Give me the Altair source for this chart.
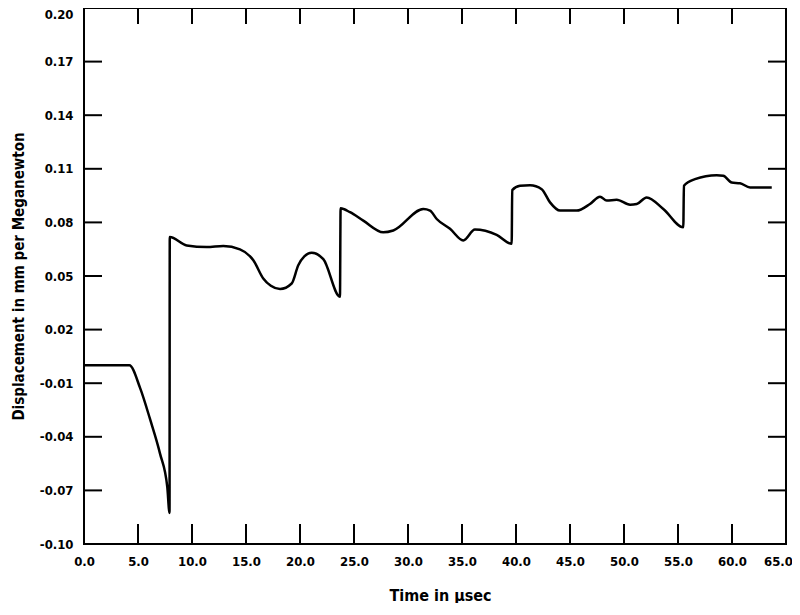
import altair as alt
import pandas as pd

# Time (microseconds) and displacement (mm per Meganewton)
t = [0.0, 4.2, 5.19, 6.11, 7.04, 7.71, 7.92, 7.94, 9.51, 11.36, 12.90, 14.44, 15.68,
     16.60, 17.3, 18.15, 19.23, 19.84, 20.4, 21.08, 22.16, 23.70, 23.76, 24.63,
     25.86, 27.71, 28.64, 31.42, 32.04, 32.66, 33.89, 35.12, 36.20, 38.21, 39.60,
     39.65, 40.37, 41.30, 42.38, 43.15, 44.07, 45.62, 46.85, 47.78, 48.40, 49.32,
     50.56, 51.18, 52.10, 53.64, 55.49, 55.55, 56.57, 58.58, 59.19, 59.97, 60.74,
     61.67, 62.59, 63.68]
v = [0.0, 0.0, -0.0126, -0.030, -0.0494, -0.068, -0.0826, 0.0718, 0.0671, 0.0662,
     0.0668, 0.0649, 0.0588, 0.0486, 0.0445, 0.0427, 0.0458, 0.0560, 0.0610, 0.0630,
     0.0594, 0.0384, 0.0879, 0.0857, 0.0810, 0.0745, 0.0755, 0.0875, 0.0866, 0.0819,
     0.0764, 0.0699, 0.0760, 0.0730, 0.0680, 0.0981, 0.1005, 0.1008, 0.0986, 0.0912,
     0.0866, 0.0866, 0.0903, 0.0944, 0.0922, 0.0927, 0.0899, 0.0903, 0.0940, 0.0875,
     0.0773, 0.1005, 0.1042, 0.1064, 0.1061, 0.1023, 0.1019, 0.0996, 0.0996, 0.0996]

x_ticks = [0, 5, 10, 15, 20, 25, 30, 35, 40, 45, 50, 55, 60, 65]
y_ticks = [-0.10, -0.07, -0.04, -0.01, 0.02, 0.05, 0.08, 0.11, 0.14, 0.17, 0.20]

W, H = 702, 536
TL = 18
FONT = "DejaVu Sans Condensed"

df = pd.DataFrame({"t": t, "v": v, "i": list(range(len(t)))})
xs = alt.Scale(domain=[0, 65], nice=False, zero=False)
ys = alt.Scale(domain=[-0.10, 0.20], nice=False, zero=False)
fix_minus = "replace(datum.label, '\u2212', '-')"

ax_x = alt.Axis(values=x_ticks, format=".1f", title="Time in \u03bcsec",
                labelFlush=False, labelPadding=11,
                labelOffset={"condition": {"test": "datum.value > 64", "value": -8},
                             "value": 0},
                titleX=356, titleY=51, titleBaseline="middle", titleFontSize=16,
                titleAnchor="middle", titleAlign="center")
ax_y = alt.Axis(values=y_ticks, format=".2f", labelExpr=fix_minus,
                title="Displacement in mm per Meganewton",
                labelFlush=False, labelPadding=11,
                labelBaseline={"condition": {"test": "datum.value > 0.19", "value": "top"},
                               "value": "middle"},
                titleX=-66, titleY=H / 2, titleBaseline="middle", titleFontSize=15,
                titleAngle=270, titleAlign="center")

line = alt.Chart(df).mark_line(color="black", strokeWidth=2.5, interpolate="monotone").encode(
    x=alt.X("t:Q", scale=xs, axis=ax_x),
    y=alt.Y("v:Q", scale=ys, axis=ax_y),
    order="i:Q",
)

xt = pd.DataFrame({"t": x_ticks})
yt = pd.DataFrame({"v": y_ticks})
rule = dict(color="black", strokeWidth=2)

top = alt.Chart(xt).mark_rule(**rule).encode(
    x=alt.X("t:Q", scale=xs, axis=ax_x), y=alt.value(0), y2=alt.value(TL - 2))
bottom = alt.Chart(xt).mark_rule(**rule).encode(
    x=alt.X("t:Q", scale=xs, axis=ax_x), y=alt.value(H), y2=alt.value(H - TL - 2))
left = alt.Chart(yt).mark_rule(**rule).encode(
    y=alt.Y("v:Q", scale=ys, axis=ax_y), x=alt.value(0), x2=alt.value(TL))
right = alt.Chart(yt).mark_rule(**rule).encode(
    y=alt.Y("v:Q", scale=ys, axis=ax_y), x=alt.value(W), x2=alt.value(W - TL))

chart = alt.layer(line, top, bottom, left, right).properties(
    width=W, height=H,
    autosize=alt.AutoSizeParams(type="none"),
    padding={"left": 76, "top": 0, "right": 6, "bottom": 59},
).configure_view(
    stroke="black", strokeWidth=2
).configure_axis(
    domain=False, ticks=False, tickSize=0, grid=False,
    labelFont=FONT, labelFontSize=13, labelFontWeight="bold", labelColor="black",
    titleFont=FONT, titleFontWeight="bold", titleColor="black",
)

chart.save("out.html", embed_options={"renderer": "svg", "actions": False})
